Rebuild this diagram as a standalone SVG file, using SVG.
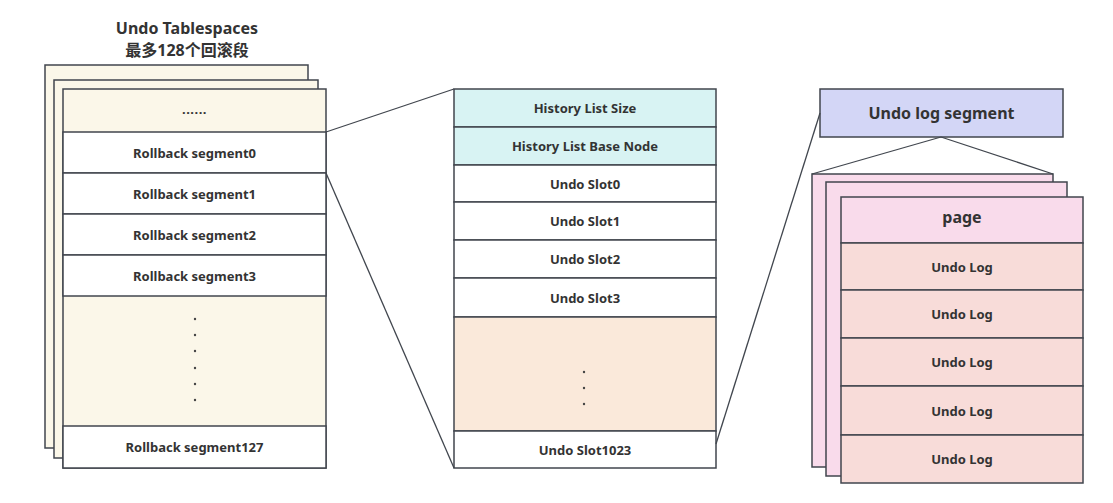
<svg xmlns="http://www.w3.org/2000/svg" width="1113" height="503" viewBox="0 0 1113 503">
<style>
.b{stroke:#41464e;stroke-width:1.5}
.t{font-family:"Noto Sans","Noto Sans CJK SC",sans-serif;font-weight:bold;fill:#333;text-anchor:middle;dominant-baseline:central}
.s{font-size:13px}
.l{font-size:16px}
.cream{fill:#fbf7e9}
.w{fill:#fff}
.teal{fill:#d8f3f3}
.peach{fill:#fae9da}
.lav{fill:#d3d6f6}
.pink{fill:#f9dbeb}
.rose{fill:#f8dcd9}
.dot{fill:#444}
.c{stroke:#41464e;stroke-width:1.3;fill:none}
</style>
<g id="title">
<text class="t l" x="187" y="27.5">Undo Tablespaces</text>
<text class="t" x="187" y="49.5" font-size="16">最多128个回滚段</text>
</g>
<g id="tablespaces">
<rect class="b cream" x="45" y="65" width="263" height="383"/>
<rect class="b cream" x="54" y="80" width="264" height="378"/>
<rect class="b cream" x="63" y="89" width="263" height="379"/>
<text class="t s" x="194.5" y="109" letter-spacing="0.5">......</text>
<rect class="b w" x="63" y="132" width="263" height="41"/>
<text class="t s" x="194.5" y="153">Rollback segment0</text>
<rect class="b w" x="63" y="173" width="263" height="41"/>
<text class="t s" x="194.5" y="194">Rollback segment1</text>
<rect class="b w" x="63" y="214" width="263" height="41"/>
<text class="t s" x="194.5" y="235">Rollback segment2</text>
<rect class="b w" x="63" y="255" width="263" height="41"/>
<text class="t s" x="194.5" y="276">Rollback segment3</text>
<circle class="dot" cx="195" cy="319" r="1.2"/>
<circle class="dot" cx="195" cy="335" r="1.2"/>
<circle class="dot" cx="195" cy="351" r="1.2"/>
<circle class="dot" cx="195" cy="368" r="1.2"/>
<circle class="dot" cx="195" cy="384" r="1.2"/>
<circle class="dot" cx="195" cy="400" r="1.2"/>
<rect class="b w" x="63" y="426" width="263" height="42"/>
<text class="t s" x="194.5" y="447">Rollback segment127</text>
</g>
<g id="rollback-segment">
<rect class="b teal" x="454" y="89" width="262" height="38"/>
<text class="t s" x="585" y="108">History List Size</text>
<rect class="b teal" x="454" y="127" width="262" height="38"/>
<text class="t s" x="585" y="146">History List Base Node</text>
<rect class="b w" x="454" y="165" width="262" height="37"/>
<text class="t s" x="585" y="184">Undo Slot0</text>
<rect class="b w" x="454" y="202" width="262" height="38"/>
<text class="t s" x="585" y="221">Undo Slot1</text>
<rect class="b w" x="454" y="240" width="262" height="38"/>
<text class="t s" x="585" y="259">Undo Slot2</text>
<rect class="b w" x="454" y="278" width="262" height="39"/>
<text class="t s" x="585" y="297.5">Undo Slot3</text>
<rect class="b peach" x="454" y="317" width="262" height="114"/>
<circle class="dot" cx="584" cy="372" r="1.2"/>
<circle class="dot" cx="584" cy="388" r="1.2"/>
<circle class="dot" cx="584" cy="404" r="1.2"/>
<rect class="b w" x="454" y="431" width="262" height="37"/>
<text class="t s" x="585" y="450">Undo Slot1023</text>
</g>
<g id="undo-log-segment">
<rect class="b lav" x="820" y="89" width="243" height="48"/>
<text class="t l" x="941.5" y="113" font-size="16.5">Undo log segment</text>
</g>
<g id="pages">
<rect class="b pink" x="812" y="174" width="241" height="293"/>
<rect class="b pink" x="826" y="182" width="241" height="294"/>
<rect class="b pink" x="841" y="197" width="242" height="46"/>
<text class="t l" x="962" y="217">page</text>
<rect class="b rose" x="841" y="243" width="242" height="47"/>
<text class="t s" x="962" y="267">Undo Log</text>
<rect class="b rose" x="841" y="290" width="242" height="48"/>
<text class="t s" x="962" y="314">Undo Log</text>
<rect class="b rose" x="841" y="338" width="242" height="48"/>
<text class="t s" x="962" y="362">Undo Log</text>
<rect class="b rose" x="841" y="386" width="242" height="49"/>
<text class="t s" x="962" y="410.5">Undo Log</text>
<rect class="b rose" x="841" y="435" width="242" height="48"/>
<text class="t s" x="962" y="459">Undo Log</text>
</g>
<g id="connectors">
<line class="c" x1="326" y1="132" x2="454" y2="89"/>
<line class="c" x1="326" y1="173" x2="454" y2="468"/>
<line class="c" x1="716" y1="444" x2="820" y2="113"/>
<line class="c" x1="941" y1="137" x2="812" y2="174"/>
<line class="c" x1="941" y1="137" x2="1053" y2="174"/>
</g>
</svg>
